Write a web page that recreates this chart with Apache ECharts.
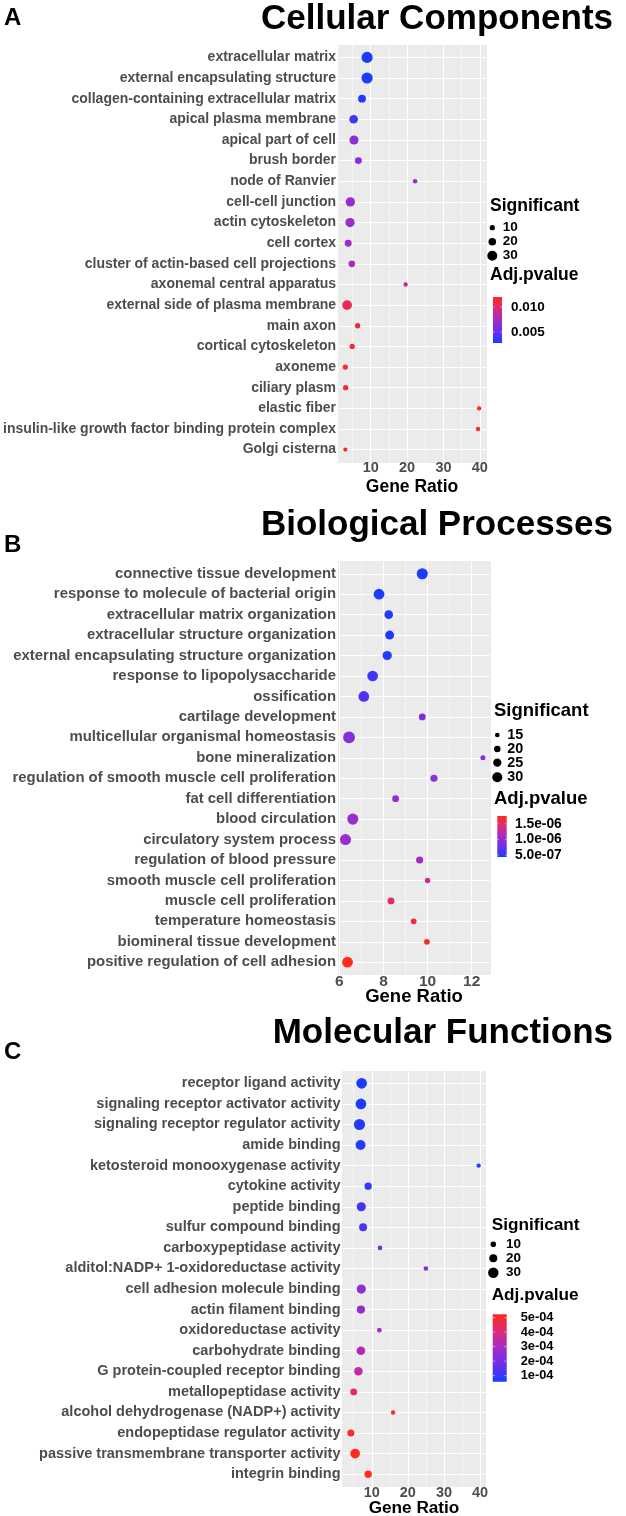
<!DOCTYPE html>
<html><head><meta charset="utf-8">
<script src="https://cdn.jsdelivr.net/npm/echarts@6/dist/echarts.min.js"></script>
<style>html,body{margin:0;padding:0;background:#fff}#c{width:626px;height:1516px}</style>
</head><body><div id="c"></div>
<script>
// ---------- DATA ----------
const ccTerms = ['extracellular matrix','external encapsulating structure','collagen-containing extracellular matrix','apical plasma membrane','apical part of cell','brush border','node of Ranvier','cell-cell junction','actin cytoskeleton','cell cortex','cluster of actin-based cell projections','axonemal central apparatus','external side of plasma membrane','main axon','cortical cytoskeleton','axoneme','ciliary plasm','elastic fiber','insulin-like growth factor binding protein complex','Golgi cisterna'];
const ccGeneRatio = [9.0, 9.0, 7.6, 5.3, 5.4, 6.6, 22.2, 4.4, 4.3, 3.8, 4.8, 19.6, 3.5, 6.4, 4.9, 3.0, 3.1, 39.8, 39.5, 3.0];
const ccSignificant = [35, 35, 21, 24, 26, 17, 7, 27, 27, 17, 16, 6, 29, 10, 10, 10, 10, 6, 6, 5];
const ccAdjP = [0.0028, 0.0028, 0.0030, 0.0039, 0.0065, 0.0065, 0.0074, 0.0069, 0.0070, 0.0071, 0.0079, 0.0086, 0.0106, 0.0111, 0.0113, 0.0116, 0.0116, 0.0119, 0.0118, 0.0120];

const bpTerms = ['connective tissue development','response to molecule of bacterial origin','extracellular matrix organization','extracellular structure organization','external encapsulating structure organization','response to lipopolysaccharide','ossification','cartilage development','multicellular organismal homeostasis','bone mineralization','regulation of smooth muscle cell proliferation','fat cell differentiation','blood circulation','circulatory system process','regulation of blood pressure','smooth muscle cell proliferation','muscle cell proliferation','temperature homeostasis','biomineral tissue development','positive regulation of cell adhesion'];
const bpGeneRatio = [9.76, 7.80, 8.24, 8.28, 8.17, 7.51, 7.11, 9.76, 6.44, 12.51, 10.29, 8.55, 6.61, 6.28, 9.64, 10.0, 8.34, 9.37, 9.97, 6.37];
const bpSignificant = [33, 32, 26, 27, 28, 32, 32, 21, 35, 16, 22, 21, 33, 33, 22, 17, 21, 18, 18, 32];
const bpAdjP = [4.40e-7, 4.53e-7, 4.66e-7, 4.66e-7, 4.79e-7, 5.97e-7, 6.50e-7, 8.59e-7, 9.12e-7, 9.25e-7, 9.64e-7, 1.03e-6, 1.04e-6, 1.04e-6, 1.12e-6, 1.33e-6, 1.45e-6, 1.65e-6, 1.68e-6, 1.75e-6];

const mfTerms = ['receptor ligand activity','signaling receptor activator activity','signaling receptor regulator activity','amide binding','ketosteroid monooxygenase activity','cytokine activity','peptide binding','sulfur compound binding','carboxypeptidase activity','alditol:NADP+ 1-oxidoreductase activity','cell adhesion molecule binding','actin filament binding','oxidoreductase activity','carbohydrate binding','G protein-coupled receptor binding','metallopeptidase activity','alcohol dehydrogenase (NADP+) activity','endopeptidase regulator activity','passive transmembrane transporter activity','integrin binding'];
const mfGeneRatio = [7.2, 7.0, 6.6, 6.9, 39.6, 9.0, 7.1, 7.6, 12.3, 25.0, 7.1, 7.0, 12.1, 7.0, 6.3, 5.0, 15.9, 4.2, 5.4, 9.0];
const mfSignificant = [31, 31, 33, 28, 5, 17, 25, 20, 6, 6, 25, 21, 6, 23, 22, 15, 5, 16, 27, 17];
const mfAdjP = [0.58e-4, 0.63e-4, 0.67e-4, 0.72e-4, 0.81e-4, 0.95e-4, 1.14e-4, 1.23e-4, 2.07e-4, 2.30e-4, 2.53e-4, 2.63e-4, 3.00e-4, 3.23e-4, 3.46e-4, 4.30e-4, 4.77e-4, 5.04e-4, 5.14e-4, 5.23e-4];

// legend ticks
const ccSizeTicks = [10, 20, 30];
const bpSizeTicks = [15, 20, 25, 30];
const mfSizeTicks = [10, 20, 30];
const ccColorTicks = [0.010, 0.005];
const ccColorTickLabels = ['0.010', '0.005'];
const bpColorTicks = [1.5e-6, 1.0e-6, 5.0e-7];
const bpColorTickLabels = ['1.5e-06', '1.0e-06', '5.0e-07'];
const mfColorTicks = [5e-4, 4e-4, 3e-4, 2e-4, 1e-4];
const mfColorTickLabels = ['5e-04', '4e-04', '3e-04', '2e-04', '1e-04'];

// ---------- STYLE / LAYOUT ----------
const FONT = "'Liberation Sans', Arial, Helvetica, sans-serif";
const PALETTE = ['#1a3cff', '#6a2fec', '#a32cc8', '#dc2a78', '#ff2a1a'];
const PANEL_BG = '#EBEBEB', MAJ = '#FFFFFF', MIN = '#F6F6F6';

const panels = [
  { letter: 'A', title: 'Cellular Components', titleY: 19, letterY: 18,
    terms: ccTerms, ratio: ccGeneRatio, sig: ccSignificant, padj: ccAdjP,
    grid: { left: 338, top: 45, width: 148, height: 417 },
    xMin: 1.0, xMax: 41.7, xSplit: 8, majorStep: 10,
    xLineColors: [PANEL_BG, MIN, MAJ, MIN, MAJ, MIN, MAJ, MIN, MAJ, PANEL_BG],
    catFont: 14, tickFont: 14.5, tickMargin: -1.5, nameFont: 17.5, nameGap: 16,
    size: v => 2.95 + 0.235 * v,
    sizeTicks: ccSizeTicks, colorTicks: ccColorTicks, colorTickLabels: ccColorTickLabels,
    leg: { x: 490, sigY: 206, sigFont: 17.5, dotX: 492.3, dotYs: [227.7, 241.7, 255.7], labX: 502.7, labFont: 13.5,
           adjY: 275, barX: 493, barW: 9, barTop: 297, barBot: 343, barLabX: 511, barLabFont: 13.5 } },
  { letter: 'B', title: 'Biological Processes', titleY: 525, letterY: 545,
    terms: bpTerms, ratio: bpGeneRatio, sig: bpSignificant, padj: bpAdjP,
    grid: { left: 338, top: 561.5, width: 152, height: 413 },
    xMin: 5.94, xMax: 12.83, xSplit: 5, majorStep: 2,
    xLineColors: [PANEL_BG, MAJ, MIN, MAJ, MIN, MAJ, MIN, MAJ, PANEL_BG],
    catFont: 14.9, tickFont: 15.5, tickMargin: -0.5, nameFont: 18.5, nameGap: 13,
    size: v => -0.625 + 0.355 * v,
    sizeTicks: bpSizeTicks, colorTicks: bpColorTicks, colorTickLabels: bpColorTickLabels,
    leg: { x: 494, sigY: 711, sigFont: 18.5, dotX: 497.3, dotYs: [735, 749, 762.7, 777.3], labX: 507.3, labFont: 14.4,
           adjY: 799, barX: 497.3, barW: 9.4, barTop: 816, barBot: 857, barLabX: 515, barLabFont: 13.8 } },
  { letter: 'C', title: 'Molecular Functions', titleY: 1033, letterY: 1052,
    terms: mfTerms, ratio: mfGeneRatio, sig: mfSignificant, padj: mfAdjP,
    grid: { left: 342.5, top: 1071, width: 143, height: 415.5 },
    xMin: 1.9, xMax: 41.5, xSplit: 8, majorStep: 10,
    xLineColors: [PANEL_BG, MIN, MAJ, MIN, MAJ, MIN, MAJ, MIN, MAJ, PANEL_BG],
    catFont: 14.5, tickFont: 14.5, tickMargin: -1.5, nameFont: 17.2, nameGap: 13,
    size: v => 3.2 + 0.24 * v,
    sizeTicks: mfSizeTicks, colorTicks: mfColorTicks, colorTickLabels: mfColorTickLabels,
    leg: { x: 491.7, sigY: 1225, sigFont: 17.2, dotX: 493.3, dotYs: [1244.3, 1258.3, 1272.7], labX: 506, labFont: 13.5,
           adjY: 1295.7, barX: 492.7, barW: 14, barTop: 1314.3, barBot: 1381.7, barLabX: 520.7, barLabFont: 12.8 } }
];

const grids = [], xAxes = [], yAxes = [], series = [], visualMaps = [], graphics = [];

function txt(text, x, y, size, opts) {
  opts = opts || {};
  return { type: 'text', x: x, y: y, silent: true,
    style: { text: text, font: 'bold ' + size + 'px ' + FONT, fill: opts.fill || '#000',
      align: opts.align || 'left', verticalAlign: 'middle',
      textAlign: opts.align || 'left', textVerticalAlign: 'middle' } };
}

panels.forEach((p, k) => {
  const n = p.terms.length;
  const pMin = Math.min.apply(null, p.padj), pMax = Math.max.apply(null, p.padj);
  grids.push(Object.assign({ show: true, backgroundColor: PANEL_BG, borderWidth: 0, containLabel: false, outerBoundsMode: 'none' }, p.grid));
  const yLineColors = [PANEL_BG];
  for (let i = 0; i < n; i++) yLineColors.push(MAJ);
  yLineColors.push(PANEL_BG);
  xAxes.push({
    type: 'value', gridIndex: k, min: p.xMin, max: p.xMax, splitNumber: p.xSplit,
    axisLine: { show: false }, axisTick: { show: false },
    axisLabel: { margin: p.tickMargin, color: '#4D4D4D', fontWeight: 'bold', fontSize: p.tickFont, fontFamily: FONT,
      formatter: v => { const r = Math.round(v); return (Math.abs(v - r) < 1e-6 && r % p.majorStep === 0) ? String(r) : ''; } },
    splitLine: { show: true, lineStyle: { color: p.xLineColors, width: 1 } },
    name: 'Gene Ratio', nameLocation: 'middle', nameGap: p.nameGap, nameMoveOverlap: false,
    nameTextStyle: { color: '#000', fontWeight: 'bold', fontSize: p.nameFont, fontFamily: FONT }
  });
  yAxes.push({
    type: 'value', gridIndex: k, min: -0.6, max: n - 1 + 0.6, splitNumber: n, inverse: true,
    axisLine: { show: false }, axisTick: { show: false },
    axisLabel: { margin: 2, color: '#4D4D4D', fontWeight: 'bold', fontSize: p.catFont, fontFamily: FONT,
      formatter: v => { const r = Math.round(v); return (Math.abs(v - r) < 1e-6 && r >= 0 && r < n) ? p.terms[r] : ''; } },
    splitLine: { show: true, lineStyle: { color: yLineColors, width: 1 } }
  });
  series.push({
    type: 'scatter', xAxisIndex: k, yAxisIndex: k, symbol: 'circle', clip: false,
    symbolSize: d => p.size(d[2]),
    data: p.terms.map((t, i) => [p.ratio[i], i, p.sig[i], p.padj[i], t]),
    itemStyle: { opacity: 1 }, emphasis: { disabled: true }
  });
  visualMaps.push({ type: 'continuous', show: false, seriesIndex: k, dimension: 3, min: pMin, max: pMax,
    inRange: { color: PALETTE } });

  // titles
  graphics.push(txt(p.title, 613, p.titleY, 35, { align: 'right' }));
  graphics.push(txt(p.letter, 4, p.letterY, 24));

  // size legend
  const L = p.leg;
  graphics.push(txt('Significant', L.x, L.sigY, L.sigFont));
  p.sizeTicks.forEach((s, i) => {
    const d = p.size(s);
    graphics.push({ type: 'circle', silent: true, shape: { cx: L.dotX, cy: L.dotYs[i], r: d / 2 }, style: { fill: '#000' } });
    graphics.push(txt(String(s), L.labX, L.dotYs[i], L.labFont));
  });
  // colour legend
  graphics.push(txt('Adj.pvalue', L.x, L.adjY, L.sigFont));
  graphics.push({ type: 'rect', silent: true, shape: { x: L.barX, y: L.barTop, width: L.barW, height: L.barBot - L.barTop },
    style: { fill: { type: 'linear', x: 0, y: 1, x2: 0, y2: 0,
      colorStops: PALETTE.map((c, i) => ({ offset: i / (PALETTE.length - 1), color: c })) } } });
  p.colorTicks.forEach((v, i) => {
    const y = L.barBot - (v - pMin) / (pMax - pMin) * (L.barBot - L.barTop);
    const tl = L.barW * 0.18;
    graphics.push({ type: 'line', silent: true, shape: { x1: L.barX, y1: y, x2: L.barX + tl, y2: y }, style: { stroke: 'rgba(255,255,255,0.6)', lineWidth: 0.8 } });
    graphics.push({ type: 'line', silent: true, shape: { x1: L.barX + L.barW - tl, y1: y, x2: L.barX + L.barW, y2: y }, style: { stroke: 'rgba(255,255,255,0.6)', lineWidth: 0.8 } });
    graphics.push(txt(p.colorTickLabels[i], L.barLabX, y, L.barLabFont));
  });
});

const chart = echarts.init(document.getElementById('c'), null, { renderer: 'canvas', width: 626, height: 1516 });
chart.setOption({
  animation: false, backgroundColor: '#fff',
  grid: grids, xAxis: xAxes, yAxis: yAxes, series: series, visualMap: visualMaps,
  graphic: { elements: graphics }
});
</script></body></html>
